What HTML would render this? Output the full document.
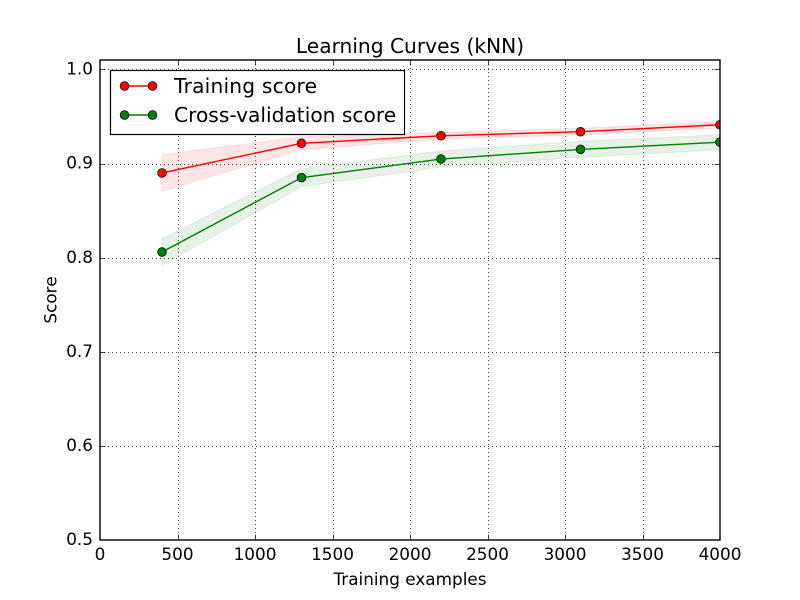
<!DOCTYPE html>
<html lang="en">
<head>
<meta charset="utf-8">
<title>Learning Curves (kNN)</title>
<style>
html,body{margin:0;padding:0;background:#fff;}
svg{display:block;}
text{font-family:"DejaVu Sans","Liberation Sans",sans-serif;fill:#000;}
</style>
</head>
<body>
<svg id="chart" xmlns="http://www.w3.org/2000/svg" width="800" height="600" viewBox="0 0 800 600">
  <defs><clipPath id="plot-clip"><rect x="100" y="60" width="620" height="480"/></clipPath></defs>
  <rect x="0" y="0" width="800" height="600" fill="#fff"/>
  <rect x="100" y="60" width="620" height="480" fill="#fff"/>
  <g id="grid"></g>
  <g id="bands" clip-path="url(#plot-clip)"></g>
  <g id="series" clip-path="url(#plot-clip)"></g>
  <g id="ticks"></g>
  <rect x="100" y="60" width="620" height="480" fill="none" stroke="#000" stroke-width="1.39"/>
  <g id="tick-labels"></g>
  <text x="410" y="53" font-size="20.2" text-anchor="middle">Learning Curves (kNN)</text>
  <text x="410" y="585" font-size="16.85" text-anchor="middle">Training examples</text>
  <text transform="translate(56.5 300) rotate(-90)" font-size="16.85" text-anchor="middle">Score</text>
  <g>
    <rect x="110.5" y="70.5" width="294" height="64" fill="#fff" stroke="#000" stroke-width="1.2"/>
    <g>
      <line x1="124.5" y1="86" x2="152.5" y2="86" stroke="#f00" stroke-width="1.39"/>
      <circle cx="124.5" cy="86" r="4.4" fill="#f00" stroke="#000" stroke-width="0.69"/>
      <circle cx="152.5" cy="86" r="4.4" fill="#f00" stroke="#000" stroke-width="0.69"/>
      <text x="174" y="93" font-size="20.2" textLength="143" lengthAdjust="spacing">Training score</text>
    </g>
    <g>
      <line x1="124.5" y1="115" x2="152.5" y2="115" stroke="#008000" stroke-width="1.39"/>
      <circle cx="124.5" cy="115" r="4.4" fill="#008000" stroke="#000" stroke-width="0.69"/>
      <circle cx="152.5" cy="115" r="4.4" fill="#008000" stroke="#000" stroke-width="0.69"/>
      <text x="174" y="122" font-size="20.2">Cross-validation score</text>
    </g>
  </g>
</svg>
<script>
const trainSizes = [400, 1300, 2200, 3100, 4000];
const trainScores = [0.890, 0.9215, 0.9295, 0.9338, 0.9412];
const trainStd = [0.0193, 0.0068, 0.0035, 0.0035, 0.0035];
const cvScores = [0.806, 0.885, 0.9048, 0.915, 0.9227];
const cvStd = [0.0138, 0.0096, 0.0085, 0.0085, 0.008];
const xTicks = [0, 500, 1000, 1500, 2000, 2500, 3000, 3500, 4000];
const yTicks = ['0.5', '0.6', '0.7', '0.8', '0.9', '1.0'];

const NS = 'http://www.w3.org/2000/svg';
const xScale = v => 100 + (v - 0) / 4000 * 620;
const yScale = v => 540 - (v - 0.5) / 0.51 * 480;

function make(tag, attrs, parent) {
  const el = document.createElementNS(NS, tag);
  for (const k in attrs) el.setAttribute(k, attrs[k]);
  parent.appendChild(el);
  return el;
}
const gridG = document.getElementById('grid');
const tickG = document.getElementById('ticks');
const labelG = document.getElementById('tick-labels');
const bandG = document.getElementById('bands');
const seriesG = document.getElementById('series');

xTicks.forEach(t => {
  const x = Math.round(xScale(t)) + 0.5;
  if (t > 0 && t < 4000) {
    const g = make('line', {x1: x, y1: 60, x2: x, y2: 540, stroke: '#000', 'stroke-width': 0.7, 'stroke-dasharray': '1 3'}, gridG);
    
    
    const a = make('line', {x1: x, y1: 540, x2: x, y2: 534.5, stroke: '#000', 'stroke-width': 0.7}, tickG);
    
    
    const b = make('line', {x1: x, y1: 60, x2: x, y2: 65.5, stroke: '#000', 'stroke-width': 0.7}, tickG);
    
    
  }
  const l = make('text', {x: xScale(t), y: 560, 'font-size': 16.85, 'text-anchor': 'middle'}, labelG);
  
  
  l.textContent = t;
});
yTicks.forEach(t => {
  const v = parseFloat(t);
  const y = Math.round(yScale(v)) + 0.5;
  if (v > 0.5) {
    const g = make('line', {x1: 100, y1: y, x2: 720, y2: y, stroke: '#000', 'stroke-width': 0.7, 'stroke-dasharray': '1 3'}, gridG);
    
    
    const a = make('line', {x1: 100, y1: y, x2: 105.5, y2: y, stroke: '#000', 'stroke-width': 0.7}, tickG);
    
    
    const b = make('line', {x1: 720, y1: y, x2: 714.5, y2: y, stroke: '#000', 'stroke-width': 0.7}, tickG);
    
    
  }
  const l = make('text', {x: 93, y: yScale(v) + 5.2, 'font-size': 16.85, 'text-anchor': 'end'}, labelG);
  
  
  l.textContent = t;
});

function drawSeries(name, scores, stds, color) {
  const upper = trainSizes.map((s, i) => xScale(s) + ',' + yScale(scores[i] + stds[i]));
  const lower = trainSizes.map((s, i) => xScale(s) + ',' + yScale(scores[i] - stds[i])).reverse();
  const band = make('polygon', {points: upper.concat(lower).join(' '), fill: color, 'fill-opacity': 0.1, stroke: color, 'stroke-opacity': 0.1, 'stroke-width': 1}, bandG);
  
  
  const pts = trainSizes.map((s, i) => xScale(s) + ',' + yScale(scores[i])).join(' ');
  const line = make('polyline', {points: pts, fill: 'none', stroke: color, 'stroke-width': 1.39}, seriesG);
  
  
  trainSizes.forEach((s, i) => {
    const c = make('circle', {cx: xScale(s), cy: yScale(scores[i]), r: 4.4, fill: color, stroke: '#000', 'stroke-width': 0.69}, seriesG);
    
    
  });
}
drawSeries('training-score', trainScores, trainStd, '#ff0000');
drawSeries('cross-validation-score', cvScores, cvStd, '#008000');
</script>
</body>
</html>
